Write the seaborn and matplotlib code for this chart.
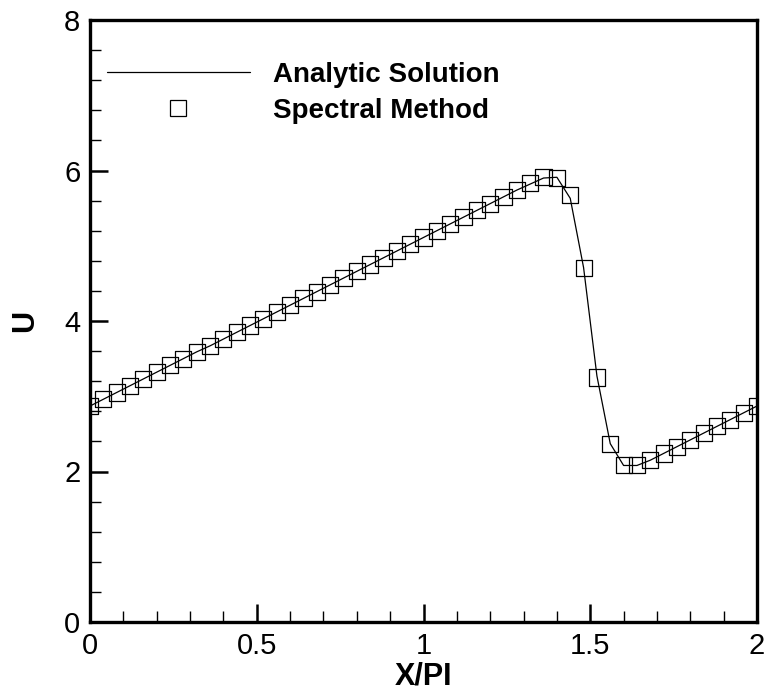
import matplotlib
matplotlib.use("Agg")
import matplotlib.pyplot as plt
from matplotlib.lines import Line2D
from matplotlib.ticker import MultipleLocator
import seaborn as sns
import pandas as pd

# x/pi grid, step 0.04
x_vals = [round(0.04 * k, 2) for k in range(51)]

# Spectral method values
u_spectral = [2.87, 2.96, 3.05, 3.14, 3.23, 3.32, 3.41, 3.50, 3.59, 3.67,
              3.76, 3.85, 3.94, 4.03, 4.12, 4.21, 4.30, 4.39, 4.48, 4.57,
              4.66, 4.75, 4.84, 4.93, 5.02, 5.11, 5.20, 5.29, 5.38, 5.47,
              5.56, 5.65, 5.74, 5.83, 5.91, 5.90, 5.68, 4.71, 3.25, 2.36,
              2.09, 2.09, 2.15, 2.24, 2.33, 2.42, 2.51, 2.60, 2.69, 2.78,
              2.87]

# Analytic solution values
u_analytic = [2.87, 2.96, 3.05, 3.14, 3.23, 3.32, 3.41, 3.50, 3.59, 3.67,
              3.76, 3.85, 3.94, 4.03, 4.12, 4.21, 4.30, 4.39, 4.48, 4.57,
              4.66, 4.75, 4.84, 4.93, 5.02, 5.11, 5.20, 5.29, 5.38, 5.47,
              5.56, 5.65, 5.74, 5.82, 5.90, 5.91, 5.63, 4.71, 3.27, 2.37,
              2.08, 2.08, 2.15, 2.24, 2.33, 2.42, 2.51, 2.60, 2.69, 2.78,
              2.87]

x_ticks = [0, 0.5, 1, 1.5, 2]
x_tick_labels = ["0", "0.5", "1", "1.5", "2"]
y_ticks = [0, 2, 4, 6, 8]
y_tick_labels = ["0", "2", "4", "6", "8"]

df = pd.DataFrame({"x": x_vals, "spectral": u_spectral, "analytic": u_analytic})

sns.set_style("ticks")
plt.rcParams["font.family"] = ["Liberation Sans", "DejaVu Sans"]
plt.rcParams["text.color"] = "black"
plt.rcParams["axes.labelcolor"] = "black"
plt.rcParams["xtick.color"] = "black"
plt.rcParams["ytick.color"] = "black"

fig = plt.figure(figsize=(7.68, 6.90), dpi=100)
ax = fig.add_axes([90 / 768, 1 - 622 / 690, 667 / 768, 602 / 690])

sns.lineplot(data=df, x="x", y="analytic", ax=ax, color="black", linewidth=0.9,
             sort=False, estimator=None)
sns.scatterplot(data=df, x="x", y="spectral", ax=ax, marker="s", s=135,
                facecolors="none", edgecolor="black", linewidth=0.9, zorder=3)

ax.set_xlim(0, 2)
ax.set_ylim(0, 8)
ax.set_xticks(x_ticks)
ax.set_xticklabels(x_tick_labels)
ax.set_yticks(y_ticks)
ax.set_yticklabels(y_tick_labels)
ax.xaxis.set_minor_locator(MultipleLocator(0.1))
ax.yaxis.set_minor_locator(MultipleLocator(0.4))

for sp in ax.spines.values():
    sp.set_linewidth(2.4)
    sp.set_color("black")

ax.tick_params(axis="both", which="major", direction="in", length=13, width=1.8,
               labelsize=21, pad=7, colors="black")
ax.tick_params(axis="both", which="minor", direction="in", length=8, width=1.0,
               colors="black")
ax.tick_params(top=False, right=False, which="both")

ax.set_xlabel("X/PI", fontsize=22, fontweight="bold", labelpad=1, color="black")
ax.set_ylabel("U", fontsize=22, fontweight="bold", labelpad=17, color="black")

handles = [
    Line2D([0], [0], color="black", linewidth=0.9),
    Line2D([0], [0], color="black", marker="s", linestyle="none",
           markersize=11.5, markerfacecolor="none", markeredgewidth=0.9),
]
leg = ax.legend(handles, ["Analytic Solution", "Spectral Method"],
                loc="upper left", bbox_to_anchor=(0.025, 0.93), frameon=False,
                prop={"weight": "bold", "size": 20}, handlelength=5.15,
                handletextpad=0.83, labelspacing=0.35, borderpad=0,
                borderaxespad=0)
for t in leg.get_texts():
    t.set_color("black")

fig.savefig("out.png", dpi=100)
